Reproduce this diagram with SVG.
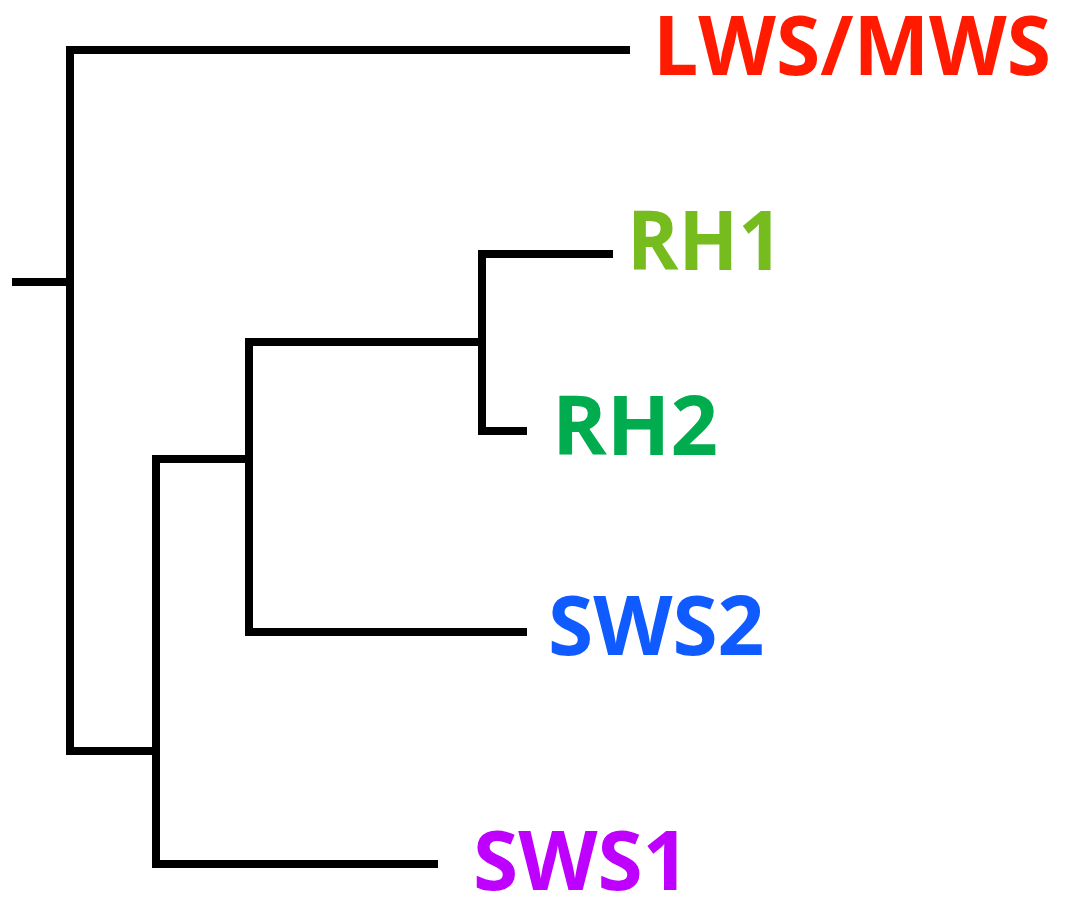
<svg xmlns="http://www.w3.org/2000/svg" width="1065" height="897" viewBox="0 0 1065 897">
<style>
.br{fill:none;stroke:#000;stroke-width:8;stroke-linejoin:miter;stroke-linecap:butt}
.lb{font-family:"Open Sans","Liberation Sans",sans-serif;font-weight:700;font-size:82px}
</style>
<rect width="1065" height="897" fill="#fff"/>
<g id="connectors">
<polyline class="br" points="12,282 70,282"/>
<polyline class="br" points="630,50 70,50 70,751 156,751"/>
<polyline class="br" points="249,459 156,459 156,864 438,864"/>
<polyline class="br" points="482,342 249,342 249,632 527,632"/>
<polyline class="br" points="613,254 482,254 482,431 527,431"/>
</g>
<g id="lws-mws"><text class="lb" x="653" y="75" fill="#FF1A00" textLength="398" lengthAdjust="spacingAndGlyphs">LWS/MWS</text></g>
<g id="rh1"><text class="lb" x="627" y="270" fill="#77BC1F" textLength="156" lengthAdjust="spacingAndGlyphs">RH1</text></g>
<g id="rh2"><text class="lb" x="552" y="455" fill="#00AC4E" textLength="166" lengthAdjust="spacingAndGlyphs">RH2</text></g>
<g id="sws2"><text class="lb" x="548" y="655" fill="#0F5BFF">SWS2</text></g>
<g id="sws1"><text class="lb" x="473" y="890" fill="#BE00FF">SWS1</text></g>
</svg>
